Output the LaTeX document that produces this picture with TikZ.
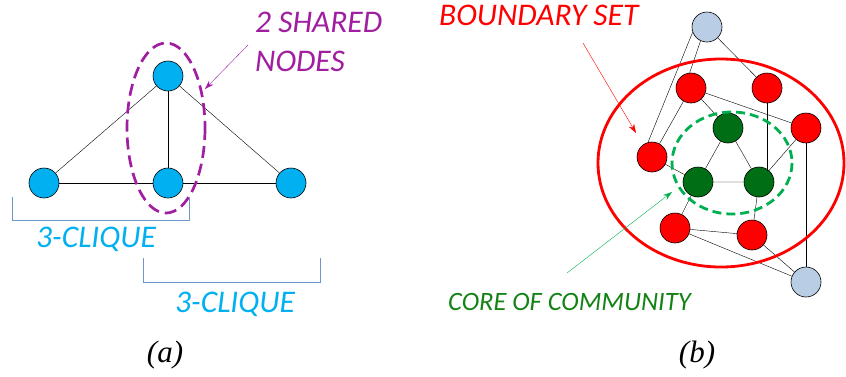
\documentclass[tikz,border=0pt]{standalone}
\usepackage{fontspec}
\setmainfont{Liberation Serif}
\newfontfamily\labelfont{Carlito}
\usetikzlibrary{arrows.meta}
\definecolor{cliqueblue}{RGB}{0,176,240}
\definecolor{bracketblue}{RGB}{110,150,200}
\definecolor{sharedpurple}{RGB}{160,30,160}
\definecolor{greynode}{RGB}{185,205,228}
\definecolor{corefill}{RGB}{0,110,20}
\definecolor{coredash}{RGB}{0,176,80}
\definecolor{coretext}{RGB}{20,130,20}

\begin{document}
\begin{tikzpicture}[x=1pt,y=-1pt,
    vertex/.style={circle,draw,semithick,minimum size=30pt,inner sep=0pt},
    cnode/.style={vertex,fill=cliqueblue},
    rnode/.style={vertex,fill=red},
    gnode/.style={vertex,fill=corefill},
    bnode/.style={vertex,fill=greynode},
    tag/.style={font=\labelfont\itshape\fontsize{31.5}{36}\selectfont,inner sep=0pt,anchor=base west},
    panel/.style={font=\itshape\fontsize{31}{34}\selectfont,inner sep=0pt}]
  \useasboundingbox (0,0) rectangle (846,376);

  % (a)
  \node[cnode] (t) at (168,76) {};
  \node[cnode] (l) at (44,183) {};
  \node[cnode] (m) at (168,183) {};
  \node[cnode] (r) at (291,183) {};
  \draw (t) -- (l);
  \draw (t) -- (m);
  \draw (t) -- (r);
  \draw (l) -- (m) -- (r);

  \draw[sharedpurple,line width=2.7pt,dash pattern=on 12pt off 6pt] (166,128) ellipse [x radius=39,y radius=85];
  \node[tag,text=sharedpurple] (sh1) at (255,32) {2 SHARED};
  \node[tag,text=sharedpurple] (sh2) at (255,71) {NODES};
  \coordinate (shtip) at (205,89);
  \draw[sharedpurple,-{Stealth[length=9pt,width=6pt]}] (248,45) -- (shtip);

  \draw[bracketblue,thick] (12,197) -- (12,220) -- (189,220) -- (189,197);
  \node[tag,text=cliqueblue] (c1) at (36,247) {3-CLIQUE};
  \draw[bracketblue,thick] (143,258) -- (143,282) -- (320,282) -- (320,258);
  \node[tag,text=cliqueblue] (c2) at (175,312) {3-CLIQUE};

  \node[panel] (pa) at (165,355) {(a)};

  % (b)
  \node[bnode] (g1) at (707,27) {};
  \node[rnode] (r1) at (691,88) {};
  \node[rnode] (r2) at (767,88) {};
  \node[rnode] (r3) at (806,128) {};
  \node[rnode] (r4) at (652,157) {};
  \node[gnode] (k1) at (728,128) {};
  \node[gnode] (k2) at (698,182) {};
  \node[gnode] (k3) at (759,182) {};
  \node[rnode] (r5) at (675,228) {};
  \node[rnode] (r6) at (752,235) {};
  \node[bnode] (g2) at (806,282) {};

  \draw (g1.245) -- (r1.95);
  \draw (g1.200) -- (r4.105);
  \draw (g1) -- (r2);
  \draw (r1) -- (k1);
  \draw (r1) -- (r3);
  \draw (r1) -- (r4);
  \draw (r2.south) -- (r2.south |- k3.north east);
  \draw (r3) -- (k3);
  \draw (r3.south) -- (r3.south |- g2.north);
  \draw (k1) -- (k2) -- (k3) -- (k1);
  \draw (r4) -- (k2);
  \draw (k2) -- (r5);
  \draw (k3) -- (r6);
  \draw (r5) -- (r6);
  \draw (r5) -- (g2);
  \draw (r6) -- (g2);

  \draw[red,line width=2.8pt] (721,163) ellipse [x radius=123,y radius=104];
  \draw[coredash,line width=2.8pt,dash pattern=on 9pt off 5pt] (732,163) ellipse [x radius=60,y radius=51];

  \node[tag,text=red] (bs) at (439,25) {BOUNDARY SET};
  \draw[red,-{Stealth[length=9pt,width=6pt]}] (583,43) -- (636,133);

  \node[tag,text=coretext,font=\labelfont\itshape\fontsize{26.5}{30}\selectfont] (co) at (448,310) {CORE OF COMMUNITY};
  \draw[coredash,-{Stealth[length=9pt,width=6pt]}] (567,273) -- (672,192);

  \node[panel] (pb) at (697,355) {(b)};
\end{tikzpicture}
\end{document}
